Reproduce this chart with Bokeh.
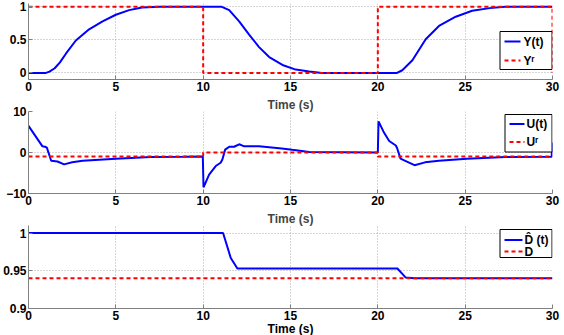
from bokeh.plotting import figure
from bokeh.layouts import column
from bokeh.models import Range1d
from bokeh.core.properties import value
from bokeh.embed import file_html
from bokeh.resources import INLINE

# ---- data ----
x_ticks = [0, 5, 10, 15, 20, 25, 30]

t_y = [0, 1.0, 1.2, 1.5, 1.8, 2.14, 2.71, 3.47, 4.24, 5.0, 5.76, 6.5, 7.5,
       11.07, 11.49, 12.06, 12.63, 13.2, 13.78, 14.54, 15.3, 16.07, 16.8,
       21.1, 21.4, 21.98, 22.74, 23.5, 24.46, 25.4, 26.4, 27.3, 30]
y_out = [0, 0, 0.02, 0.07, 0.16, 0.29, 0.49, 0.66, 0.78, 0.88, 0.95, 0.99, 1.0,
         1.0, 0.95, 0.78, 0.58, 0.39, 0.24, 0.12, 0.05, 0.02, 0.0,
         0.0, 0.04, 0.19, 0.51, 0.71, 0.85, 0.94, 0.98, 1.0, 1.0]
t_yr = [0, 10, 10, 20, 20, 30, 30]
y_ref = [1, 1, 0, 0, 1, 1, 0]

t_u = [0, 0.4, 0.8, 0.95, 1.05, 1.3, 1.66, 2.04, 2.5, 3.1, 5.0, 7.0, 8.9, 9.98,
       10.02, 10.34, 10.72, 11.0, 11.1, 11.26, 11.49, 11.77, 12.06, 12.35, 13.2,
       14.5, 15.1, 16.07, 20.0, 20.04, 20.36, 20.65, 21.03, 21.1, 21.3, 21.6,
       22.1, 22.7, 23.5, 25.1, 27.3, 29.95, 30.0]
u_in = [6.5, 4.0, 1.5, 1.4, 1.2, -2.0, -2.2, -2.9, -2.4, -2.0, -1.5, -1.1, -1.05, -1.0,
        -8.5, -5.4, -3.3, -2.5, -1.7, 0.7, 1.4, 1.4, 2.0, 1.5, 1.5,
        1.0, 0.65, 0.1, 0.0, 7.6, 4.8, 2.8, 1.7, 1.1, -1.5, -2.1,
        -3.1, -2.4, -2.0, -1.5, -1.1, -1.05, 2.4]
t_ur = [0, 10, 10, 20, 20, 30]
u_ref = [-1, -1, 0, 0, -1, -1]

t_d = [0, 11.14, 11.58, 11.96, 21.12, 21.6, 22.08, 30]
d_hat = [1.0, 1.0, 0.967, 0.953, 0.953, 0.941, 0.94, 0.94]
t_dr = [0, 30]
d_ref = [0.94, 0.94]

legend_1 = ["Y(t)", "Y\u02b3"]
legend_2 = ["U(t)", "U\u02b3"]
legend_3 = ["D\u0302 (t)", "D"]

FONT = "Liberation Sans"
BLUE = "#0000ff"
RED = "#ff0000"
DASH = "4 3"
FRAME_W = 524
LEFT = 26


def panel(top, frame_h, bottom, yr, yticks, title, label, lstand=0):
    p = figure(frame_width=FRAME_W, frame_height=frame_h,
               x_range=Range1d(0, 30), y_range=Range1d(*yr),
               output_backend="svg", toolbar_location=None,
               min_border_left=LEFT, min_border_right=14,
               min_border_top=top, min_border_bottom=bottom)
    p.outline_line_color = None
    p.xaxis.ticker = x_ticks
    p.yaxis.ticker = yticks
    if title:
        p.title.text = "Time (s)"
        p.title.align = "center"
        p.title.text_font = FONT
        p.title.text_font_style = "bold"
        p.title.text_font_size = "12px"
        p.title.standoff = 0
        p.title.offset = 0
    if label:
        p.xaxis.axis_label = "Time (s)"
        p.xaxis.axis_label_text_font = FONT
        p.xaxis.axis_label_text_font_style = "bold"
        p.xaxis.axis_label_text_font_size = "12px"
        p.xaxis.axis_label_text_color = "black"
        p.xaxis.axis_label_standoff = lstand
    for ax in (p.xaxis, p.yaxis):
        ax.axis_line_color = "#808080"
        ax.major_tick_line_color = "#808080"
        ax.major_tick_in = 4
        ax.major_tick_out = 0
        ax.minor_tick_line_color = None
        ax.major_label_text_font = FONT
        ax.major_label_text_font_style = "bold"
        ax.major_label_text_font_size = "12px"
        ax.major_label_text_color = "black"
    p.xaxis.major_label_standoff = 2
    p.yaxis.major_label_standoff = 2
    for g in (p.xgrid, p.ygrid):
        g.grid_line_color = "#aaaaaa"
        g.grid_line_dash = "1 2"
        g.grid_line_width = 1
    return p


def add_legend(p, top_px, frame_h, yr, box, rows, glyph_x, text_x, labels):
    """Legend drawn as a box, two sample lines and two texts (pixel layout -> data)."""
    y0, y1 = yr

    def tx(px):
        return (px - LEFT) * 30.0 / FRAME_W

    def ty(py):
        return y1 - (py - top_px) * (y1 - y0) / frame_h

    bx0, by0, bx1, by1 = box
    p.quad(left=[tx(bx0)], right=[tx(bx1)], top=[ty(by0)], bottom=[ty(by1)],
           fill_color="white", line_color="black", line_width=1)
    styles = [dict(line_color=BLUE, line_width=2),
              dict(line_color=RED, line_width=2, line_dash=DASH)]
    for (ry, st, lab) in zip(rows, styles, labels):
        p.line([tx(glyph_x[0]), tx(glyph_x[1])], [ty(ry), ty(ry)], **st)
        p.text(x=[tx(text_x)], y=[ty(ry)], text=[lab], text_font=value(FONT),
               text_font_style="bold", text_font_size="12px",
               text_baseline="middle", text_align="left", text_color="black")


# panel 1
yr1 = (-0.1, 1.05)
p1 = panel(3, 76, 15, yr1, [0, 0.5, 1], False, False)
p1.line(t_y, y_out, line_color=BLUE, line_width=2)
p1.line(t_yr, y_ref, line_color=RED, line_width=2, line_dash=DASH)
add_legend(p1, 3, 76, yr1, (497.5, 31, 549.5, 69), (41, 60), (502, 518), 521, legend_1)

# panel 2
yr2 = (-10, 10)
p2 = panel(17, 82, 15, yr2, [-10, 0, 10], True, False)
p2.line(t_u, u_in, line_color=BLUE, line_width=2)
p2.line(t_ur, u_ref, line_color=RED, line_width=2, line_dash=DASH)
add_legend(p2, 111, 82, yr2, (502.5, 114, 549.5, 151.5), (123.5, 141.5), (507, 522), 524, legend_2)

# panel 3
yr3 = (0.9, 1.01)
p3 = panel(17, 83, 27, yr3, [0.9, 0.95, 1], True, True, lstand=-1)
p3.line(t_d, d_hat, line_color=BLUE, line_width=2)
p3.line(t_dr, d_ref, line_color=RED, line_width=2, line_dash=DASH)
add_legend(p3, 225, 83, yr3, (497.5, 229, 549.5, 257), (239.5, 251), (502, 520), 522, legend_3)

layout = column(p1, p2, p3, spacing=0)
open("out.html", "w").write(file_html(layout, INLINE))
